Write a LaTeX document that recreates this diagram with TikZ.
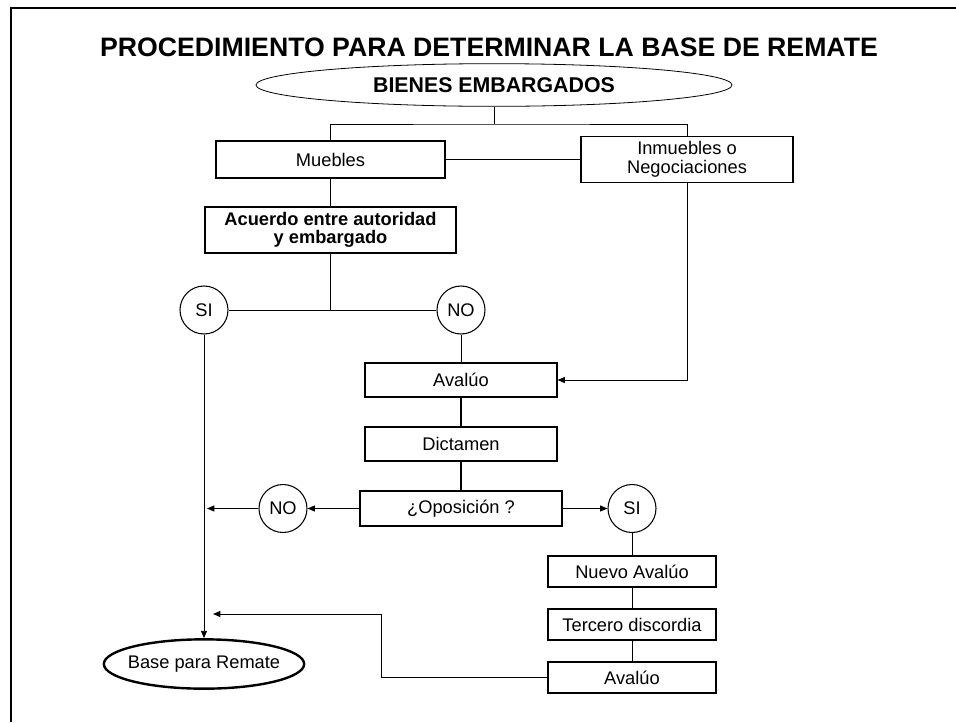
\documentclass[tikz,border=0pt]{standalone}
\usepackage{fontspec}
\setmainfont{Liberation Sans}
\usepackage{tikz}
\usetikzlibrary{shapes.geometric,arrows.meta}

\tikzset{
  box/.style={draw,line width=0.8pt,rectangle,inner sep=0pt,align=center,font=\fontsize{13.7}{15}\selectfont},
  circ/.style={draw,line width=0.8pt,circle,inner sep=0pt,minimum size=36pt,font=\fontsize{13.7}{15}\selectfont},
  link/.style={line width=0.7pt},
  arr/.style={line width=0.7pt,-{Triangle[length=5.5pt,width=4.5pt]}}
}

\begin{document}
\begin{tikzpicture}[x=0.75pt,y=0.75pt,yscale=-1,xscale=1]
  \useasboundingbox (0,0) rectangle (956,722);
  % Frame
  \draw [line width=1.6pt] (11,722) -- (11,8) -- (956,8) ;

  % Text Node
  \node (title) at (489,47) [font=\bfseries\fontsize{20}{24}\selectfont] {PROCEDIMIENTO PARA DETERMINAR LA BASE DE REMATE};
  % Ellipse
  \node (bienes) at (494,85) [draw,ellipse,line width=0.6pt,inner sep=0pt,minimum width=357pt,minimum height=32pt,font=\bfseries\fontsize{16}{19}\selectfont] {BIENES EMBARGADOS};

  % Boxes
  \node (muebles) at (330.5,159.5) [box,minimum width=171.75pt,minimum height=27.75pt] {Muebles};
  \node (inmuebles) at (687,159.5) [box,minimum width=159pt,minimum height=34.5pt,font=\fontsize{13.7}{14}\selectfont] {Inmuebles o\\Negociaciones};
  \node (acuerdo) at (330.5,230) [box,minimum width=188.25pt,minimum height=34.5pt,font=\bfseries\fontsize{13.7}{13.5}\selectfont] {Acuerdo entre autoridad\\y embargado};
  \node (si1) at (204,310) [circ] {SI};
  \node (no1) at (461,310) [circ] {NO};
  \node (avaluo1) at (461,380) [box,minimum width=144pt,minimum height=25.5pt] {Avalúo};
  \node (dictamen) at (461,444) [box,minimum width=144pt,minimum height=25.5pt] {Dictamen};
  \node (oposicion) at (461,508.5) [box,minimum width=151.5pt,minimum height=26.25pt] {¿Oposición ?};
  \node (no2) at (283,508.5) [circ] {NO};
  \node (si2) at (632,508.5) [circ] {SI};
  \node (nuevo) at (632,571.5) [box,minimum width=126pt,minimum height=23.25pt] {Nuevo Avalúo};
  \node (tercero) at (632,624.5) [box,minimum width=126pt,minimum height=23.25pt] {Tercero discordia};
  \node (avaluo2) at (632,677.5) [box,minimum width=126pt,minimum height=23.25pt] {Avalúo};
  \node (base) at (204,664) [draw,ellipse,line width=1.8pt,inner ysep=0pt,inner xsep=-4pt,minimum height=37pt,font=\fontsize{13.7}{15}\selectfont] {Base para Remate};

  % Points
  \coordinate (split) at (494,124);
  \coordinate (fork) at (330.5,310);
  \coordinate (noend) at (207,508.5);
  \coordinate (turn) at (381,614);
  \coordinate (back) at (213,614);

  % Straight Lines
  \draw [link] (bienes.south) -- (split) ;
  \draw [link] (muebles.north) |- (split) -| (inmuebles.north) ;
  \draw [link] (muebles.east) -- (inmuebles.west) ;
  \draw [link] (muebles.south) -- (acuerdo.north) ;
  \draw [link] (acuerdo.south) -- (fork) ;
  \draw [link] (si1.east) -- (no1.west) ;
  \draw [link] (no1.south) -- (avaluo1.north) ;
  \draw [arr] (inmuebles.south) |- (avaluo1.east) ;
  \draw [line width=1.2pt] (avaluo1.south) -- (dictamen.north) ;
  \draw [line width=1.2pt] (dictamen.south) -- (oposicion.north) ;
  \draw [arr] (oposicion.west) -- (no2.east) ;
  \draw [arr] (no2.west) -- (noend) ;
  \draw [arr] (oposicion.east) -- (si2.west) ;
  \draw [link] (si2.south) -- (nuevo.north) ;
  \draw [link] (nuevo.south) -- (tercero.north) ;
  \draw [link] (tercero.south) -- (avaluo2.north) ;
  \draw [arr] (si1.south) -- (base.north) ;
  \draw [arr] (avaluo2.west) -| (turn) -- (back) ;
\end{tikzpicture}
\end{document}
